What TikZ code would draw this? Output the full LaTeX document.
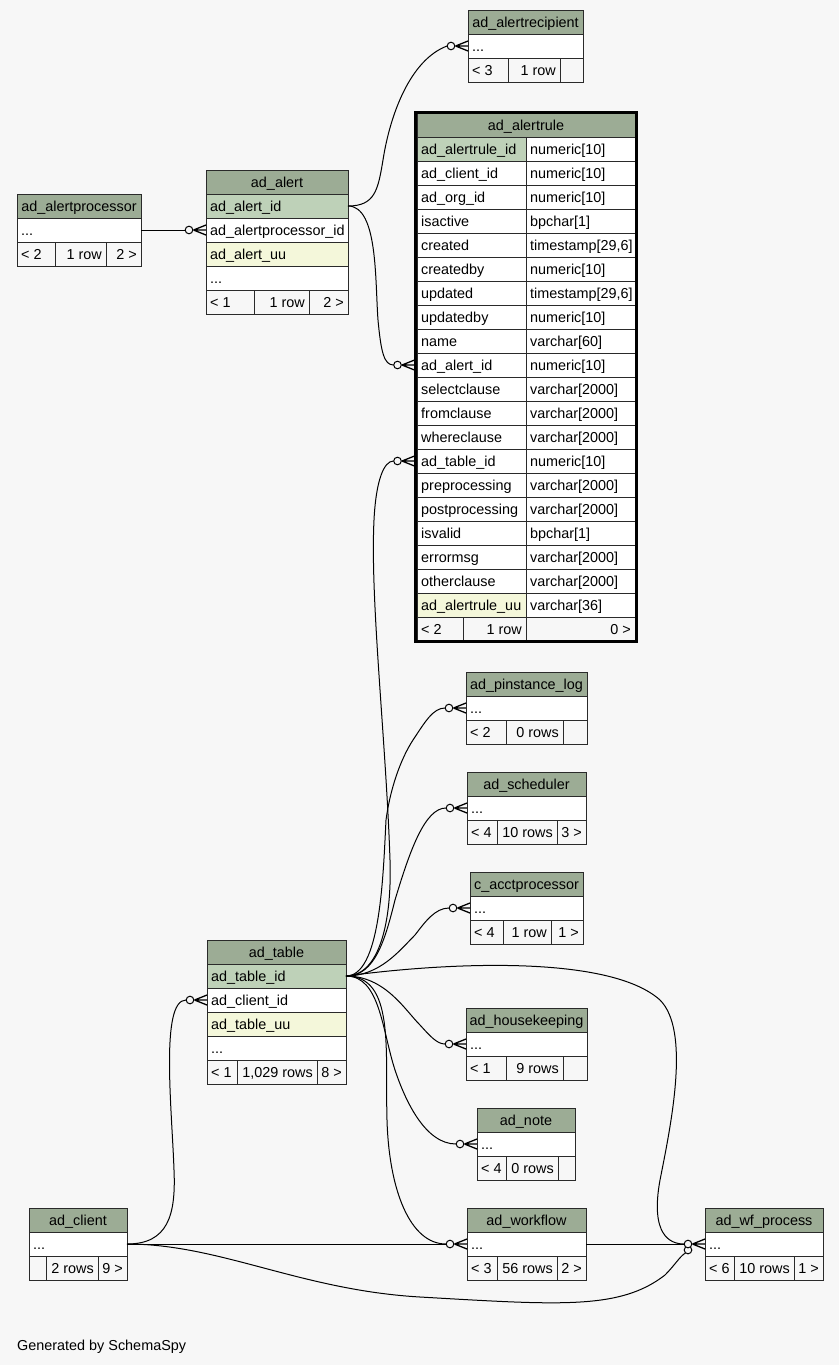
\documentclass[tikz,border=0pt]{standalone}
\usepackage{fontspec}
\setmainfont{Liberation Sans}
\definecolor{bg}{HTML}{F7F7F7}
\definecolor{hd}{HTML}{9CAC95}
\definecolor{pk}{HTML}{BED1B8}
\definecolor{uu}{HTML}{F4F7DA}
\definecolor{bd}{HTML}{2A2A2A}
\tikzset{
 cellbox/.style={draw=bd, line width=1pt, minimum height=24pt, inner sep=0pt, outer sep=0pt},
 txt/.style={inner sep=0pt, font=\fontsize{14.4}{16}\selectfont, text=black},
 edge/.style={draw=black, line width=1pt},
 crowline/.style={draw=black, line width=1.3pt},
}
\newcommand\cellL[5]{\node[cellbox, fill=#4, minimum width=#3pt, anchor=north west] (#1) at (#2) {};\node[txt, anchor=base west] (#1-t) at ([xshift=4pt,yshift=-5.5pt]#1.west) {#5};}
\newcommand\cellR[5]{\node[cellbox, fill=#4, minimum width=#3pt, anchor=north west] (#1) at (#2) {};\node[txt, anchor=base east] (#1-t) at ([xshift=-4pt,yshift=-5.5pt]#1.east) {#5};}
\newcommand\cellC[5]{\node[cellbox, fill=#4, minimum width=#3pt, anchor=north west] (#1) at (#2) {};\node[txt, anchor=base] (#1-t) at ([yshift=-5.5pt]#1.center) {#5};}
\newcommand\rrow[5]{\cellL{#1}{417,#2}{109}{#3}{#4}\cellL{#1-b}{526,#2}{109}{white}{#5}}
\newcommand\crow[1]{%
 \draw[edge, fill=bg] ([xshift=-17pt]#1) circle[radius=3.8pt];
 \draw[crowline] ([xshift=-12.5pt]#1) -- ([yshift=5pt]#1) ([xshift=-12.5pt]#1) -- (#1) ([xshift=-12.5pt]#1) -- ([yshift=-5pt]#1);}
\begin{document}
\begin{tikzpicture}[x=1pt,y=-1pt]
\fill[bg] (0,0) rectangle (839,1365);
\useasboundingbox (0,0) rectangle (839,1365);

% ad_alertrecipient
\cellC{ar-h}{468,10}{115}{hd}{ad\_alertrecipient}
\cellL{ar-r}{468,34}{115}{white}{...}
\cellL{ar-f1}{468,58}{40}{bg}{< 3}
\cellR{ar-f2}{508,58}{52}{bg}{1 row}
\cellL{ar-f3}{560,58}{23}{bg}{}

% ad_alertrule
\cellC{ru-h}{417,113}{218}{hd}{ad\_alertrule}
\rrow{ru-id}{137}{pk}{ad\_alertrule\_id}{numeric[10]}
\rrow{ru-cl}{161}{white}{ad\_client\_id}{numeric[10]}
\rrow{ru-org}{185}{white}{ad\_org\_id}{numeric[10]}
\rrow{ru-act}{209}{white}{isactive}{bpchar[1]}
\rrow{ru-cr}{233}{white}{created}{timestamp[29,6]}
\rrow{ru-crb}{257}{white}{createdby}{numeric[10]}
\rrow{ru-up}{281}{white}{updated}{timestamp[29,6]}
\rrow{ru-upb}{305}{white}{updatedby}{numeric[10]}
\rrow{ru-nm}{329}{white}{name}{varchar[60]}
\rrow{ru-al}{353}{white}{ad\_alert\_id}{numeric[10]}
\rrow{ru-sel}{377}{white}{selectclause}{varchar[2000]}
\rrow{ru-from}{401}{white}{fromclause}{varchar[2000]}
\rrow{ru-wh}{425}{white}{whereclause}{varchar[2000]}
\rrow{ru-tb}{449}{white}{ad\_table\_id}{numeric[10]}
\rrow{ru-pre}{473}{white}{preprocessing}{varchar[2000]}
\rrow{ru-post}{497}{white}{postprocessing}{varchar[2000]}
\rrow{ru-val}{521}{white}{isvalid}{bpchar[1]}
\rrow{ru-err}{545}{white}{errormsg}{varchar[2000]}
\rrow{ru-oth}{569}{white}{otherclause}{varchar[2000]}
\rrow{ru-uu}{593}{uu}{ad\_alertrule\_uu}{varchar[36]}
\cellL{ru-f1}{417,617}{46}{bg}{< 2}
\cellR{ru-f2}{463,617}{63}{bg}{1 row}
\cellR{ru-f3}{526,617}{109}{bg}{0 >}
\draw[black, line width=3pt] (415.5,112) rectangle (636.5,641.5);

% ad_alertprocessor
\cellC{ap-h}{17,194}{124}{hd}{ad\_alertprocessor}
\cellL{ap-r}{17,218}{124}{white}{...}
\cellL{ap-f1}{17,242}{38}{bg}{< 2}
\cellR{ap-f2}{55,242}{51}{bg}{1 row}
\cellR{ap-f3}{106,242}{35}{bg}{2 >}

% ad_alert
\cellC{al-h}{206,170}{142}{hd}{ad\_alert}
\cellL{al-id}{206,194}{142}{pk}{ad\_alert\_id}
\cellL{al-ap}{206,218}{142}{white}{ad\_alertprocessor\_id}
\cellL{al-uu}{206,242}{142}{uu}{ad\_alert\_uu}
\cellL{al-r}{206,266}{142}{white}{...}
\cellL{al-f1}{206,290}{48}{bg}{< 1}
\cellR{al-f2}{254,290}{55}{bg}{1 row}
\cellR{al-f3}{309,290}{39}{bg}{2 >}

% ad_pinstance_log
\cellC{pl-h}{466,672}{121}{hd}{ad\_pinstance\_log}
\cellL{pl-r}{466,696}{121}{white}{...}
\cellL{pl-f1}{466,720}{40}{bg}{< 2}
\cellR{pl-f2}{506,720}{57}{bg}{0 rows}
\cellL{pl-f3}{563,720}{24}{bg}{}

% ad_scheduler
\cellC{sc-h}{467,772}{119}{hd}{ad\_scheduler}
\cellL{sc-r}{467,796}{119}{white}{...}
\cellL{sc-f1}{467,820}{30}{bg}{< 4}
\cellR{sc-f2}{497,820}{60}{bg}{10 rows}
\cellR{sc-f3}{557,820}{29}{bg}{3 >}

% c_acctprocessor
\cellC{cp-h}{470,872}{113}{hd}{c\_acctprocessor}
\cellL{cp-r}{470,896}{113}{white}{...}
\cellL{cp-f1}{470,920}{33}{bg}{< 4}
\cellR{cp-f2}{503,920}{48}{bg}{1 row}
\cellR{cp-f3}{551,920}{32}{bg}{1 >}

% ad_table
\cellC{tb-h}{207,940}{139}{hd}{ad\_table}
\cellL{tb-id}{207,964}{139}{pk}{ad\_table\_id}
\cellL{tb-cl}{207,988}{139}{white}{ad\_client\_id}
\cellL{tb-uu}{207,1012}{139}{uu}{ad\_table\_uu}
\cellL{tb-r}{207,1036}{139}{white}{...}
\cellL{tb-f1}{207,1060}{30}{bg}{< 1}
\cellR{tb-f2}{237,1060}{80}{bg}{1,029 rows}
\cellR{tb-f3}{317,1060}{29}{bg}{8 >}

% ad_housekeeping
\cellC{hk-h}{466,1008}{121}{hd}{ad\_housekeeping}
\cellL{hk-r}{466,1032}{121}{white}{...}
\cellL{hk-f1}{466,1056}{40}{bg}{< 1}
\cellR{hk-f2}{506,1056}{57}{bg}{9 rows}
\cellL{hk-f3}{563,1056}{24}{bg}{}

% ad_note
\cellC{nt-h}{477,1108}{98}{hd}{ad\_note}
\cellL{nt-r}{477,1132}{98}{white}{...}
\cellL{nt-f1}{477,1156}{29}{bg}{< 4}
\cellR{nt-f2}{506,1156}{52}{bg}{0 rows}
\cellL{nt-f3}{558,1156}{17}{bg}{}

% ad_client
\cellC{cl-h}{29,1208}{98}{hd}{ad\_client}
\cellL{cl-r}{29,1232}{98}{white}{...}
\cellL{cl-f1}{29,1256}{17}{bg}{}
\cellR{cl-f2}{46,1256}{52}{bg}{2 rows}
\cellR{cl-f3}{98,1256}{29}{bg}{9 >}

% ad_workflow
\cellC{wfl-h}{467,1208}{119}{hd}{ad\_workflow}
\cellL{wfl-r}{467,1232}{119}{white}{...}
\cellL{wfl-f1}{467,1256}{30}{bg}{< 3}
\cellR{wfl-f2}{497,1256}{60}{bg}{56 rows}
\cellR{wfl-f3}{557,1256}{29}{bg}{2 >}

% ad_wf_process
\cellC{wfp-h}{705,1208}{118}{hd}{ad\_wf\_process}
\cellL{wfp-r}{705,1232}{118}{white}{...}
\cellL{wfp-f1}{705,1256}{29}{bg}{< 6}
\cellR{wfp-f2}{734,1256}{60}{bg}{10 rows}
\cellR{wfp-f3}{794,1256}{29}{bg}{1 >}

\node[txt, anchor=base west] (gen) at (17,1350) {Generated by SchemaSpy};

% connector end points
\coordinate (ru-al-in) at ([xshift=-2.5pt]ru-al.west);
\coordinate (ru-tb-in) at ([xshift=-2.5pt]ru-tb.west);
\coordinate (x-al-ap) at ([xshift=-21pt]al-ap.west);
\coordinate (x-ar) at ([xshift=-21pt]ar-r.west);
\coordinate (x-ru-al) at ([xshift=-21pt]ru-al-in);
\coordinate (x-ru-tb) at ([xshift=-21pt]ru-tb-in);
\coordinate (x-pl) at ([xshift=-21pt]pl-r.west);
\coordinate (x-sc) at ([xshift=-21pt]sc-r.west);
\coordinate (x-cp) at ([xshift=-21pt]cp-r.west);
\coordinate (x-hk) at ([xshift=-21pt]hk-r.west);
\coordinate (x-nt) at ([xshift=-21pt]nt-r.west);
\coordinate (x-wfl) at ([xshift=-21pt]wfl-r.west);
\coordinate (x-wfp) at ([xshift=-21pt]wfp-r.west);
\coordinate (x-tb-cl) at ([xshift=-21pt]tb-cl.west);
\coordinate (c-wfp2) at ([xshift=-17pt,yshift=-6pt]wfp-r.west);
\coordinate (x-wfp2) at ([xshift=-19.5pt,yshift=-9pt]wfp-r.west);

% connectors
\draw[edge] (ap-r.east) -- (x-al-ap);
\draw[edge] (al-id.east) .. controls (375,206) and (378,190) .. (383,160) .. controls (390,115) and (410,60) .. (x-ar);
\draw[edge] (al-id.east) .. controls (378,206) and (375,280) .. (378,320) .. controls (381,352) and (384,365) .. (x-ru-al);
\draw[edge] (tb-id.east) .. controls (380,976) and (392,920) .. (390,860) .. controls (386,740) and (370,600) .. (374,520) .. controls (376,480) and (384,461) .. (x-ru-tb);
\draw[edge] (tb-id.east) .. controls (380,976) and (383,880) .. (386,820) .. controls (390,790) and (400,760) .. (413,740) .. controls (425,722) and (433,708) .. (x-pl);
\draw[edge] (tb-id.east) .. controls (375,976) and (385,940) .. (395,900) .. controls (410,850) and (425,808) .. (x-sc);
\draw[edge] (tb-id.east) .. controls (380,976) and (400,950) .. (415,935) .. controls (425,922) and (435,908) .. (x-cp);
\draw[edge] (tb-id.east) .. controls (385,976) and (405,1010) .. (420,1025) .. controls (430,1036) and (437,1044) .. (x-hk);
\draw[edge] (tb-id.east) .. controls (380,976) and (382,1030) .. (395,1070) .. controls (405,1100) and (425,1144) .. (x-nt);
\draw[edge] (tb-id.east) .. controls (395,976) and (385,1050) .. (387,1120) .. controls (389,1190) and (410,1244) .. (x-wfl);
\draw[edge] (tb-id.east) .. controls (450,962) and (610,955) .. (660,1000) .. controls (690,1030) and (672,1120) .. (660,1180) .. controls (650,1235) and (670,1244) .. (x-wfp);
\draw[edge] (cl-r.east) .. controls (168,1244) and (176,1215) .. (174,1170) .. controls (172,1110) and (160,1000) .. (x-tb-cl);
\draw[edge] (cl-r.east) -- (x-wfl);
\draw[edge] (cl-r.east) .. controls (220,1244) and (300,1290) .. (420,1297) .. controls (560,1305) and (620,1310) .. (665,1275) .. controls (675,1265) and (680,1256) .. (x-wfp2);
\draw[edge] (wfl-r.east) -- (x-wfp);

% crow's feet
\crow{al-ap.west}
\crow{ar-r.west}
\crow{ru-al-in}
\crow{ru-tb-in}
\crow{pl-r.west}
\crow{sc-r.west}
\crow{cp-r.west}
\crow{hk-r.west}
\crow{nt-r.west}
\crow{wfl-r.west}
\crow{tb-cl.west}
\draw[edge, fill=bg] (c-wfp2) circle[radius=3.8pt];
\crow{wfp-r.west}
\end{tikzpicture}
\end{document}
